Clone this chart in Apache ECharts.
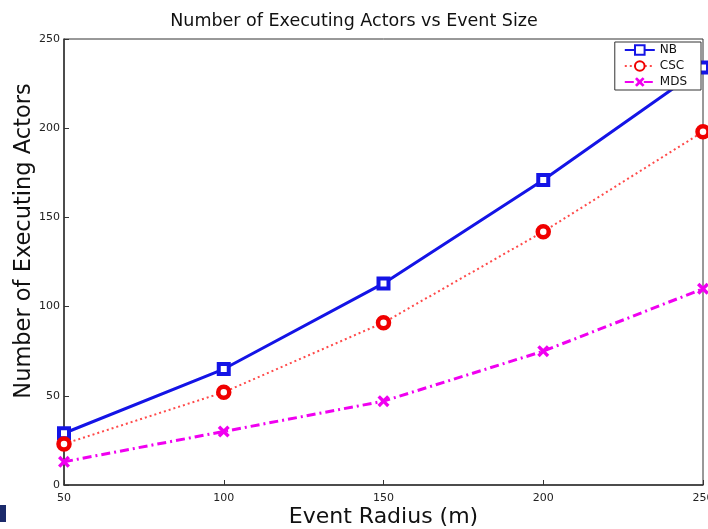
<!DOCTYPE html>
<html>
<head>
<meta charset="utf-8">
<script src="https://cdn.jsdelivr.net/npm/echarts@6/dist/echarts.min.js"></script>
<style>html,body{margin:0;padding:0;background:#fff;}#c{width:708px;height:529px;}</style>
</head>
<body>
<div id="c"></div>
<script>
var radius = [50, 100, 150, 200, 250];
var nbValues = [29, 65, 113, 171, 234];
var cscValues = [23, 52, 91, 142, 198];
var mdsValues = [13, 30, 47, 75, 110];
var xTicks = [50, 100, 150, 200, 250];
var yTicks = [0, 50, 100, 150, 200, 250];

function pairs(v) { return radius.map(function (r, i) { return [r, v[i]]; }); }
var xSymbol = 'path://M0,2L2,0L5,3L8,0L10,2L7,5L10,8L8,10L5,7L2,10L0,8L3,5Z';
var font = 'DejaVu Sans, Liberation Sans, sans-serif';

var chart = echarts.init(document.getElementById('c'));
chart.setOption({
  animation: false,
  backgroundColor: '#fff',
  title: {
    text: 'Number of Executing Actors vs Event Size',
    left: 'center', top: 7,
    textStyle: { fontFamily: font, fontSize: 17.5, fontWeight: 'normal', color: '#111' }
  },
  legend: {
    right: 7, top: 42, orient: 'vertical',
    itemWidth: 30, itemHeight: 12, itemGap: 4,
    padding: [2, 14, 2, 9],
    backgroundColor: '#fff', borderColor: '#333', borderWidth: 1,
    textStyle: { fontFamily: font, fontSize: 12, color: '#111' },
    data: ['NB', 'CSC', 'MDS']
  },
  grid: { left: 64, right: 5, top: 39, bottom: 44, outerBoundsMode: 'none', containLabel: false, show: true, borderColor: '#333', borderWidth: 1, backgroundColor: 'transparent' },
  xAxis: {
    type: 'value', min: 50, max: 250, interval: 50,
    name: 'Event Radius (m)', nameLocation: 'middle', nameGap: 21.5, nameMoveOverlap: false,
    nameTextStyle: { fontFamily: font, fontSize: 22, color: '#111' },
    axisLine: { lineStyle: { color: '#333', width: 1.5 } },
    axisTick: { inside: true, length: 5, lineStyle: { color: '#333' } },
    axisLabel: { fontFamily: font, fontSize: 11, color: '#222', margin: 8, formatter: function (v) { return xTicks.indexOf(v) >= 0 ? String(v) : ''; } },
    splitLine: { show: false }
  },
  yAxis: {
    type: 'value', min: 0, max: 250, interval: 50,
    name: 'Number of Executing Actors', nameLocation: 'middle', nameGap: 28, nameMoveOverlap: false,
    nameTextStyle: { fontFamily: font, fontSize: 22.5, color: '#111', padding: [0, 0, 0, 42] },
    axisLine: { lineStyle: { color: '#333', width: 1.5 } },
    axisTick: { inside: true, length: 5, lineStyle: { color: '#333' } },
    axisLabel: { fontFamily: font, fontSize: 11, color: '#222', margin: 4, formatter: function (v) { return yTicks.indexOf(v) >= 0 ? String(v) : ''; } },
    splitLine: { show: false }
  },
  graphic: [{ type: 'rect', shape: { x: 0, y: 505, width: 6, height: 17 }, style: { fill: '#1b2a6b' } }],
  series: [
    {
      name: 'NB', type: 'line', data: pairs(nbValues),
      symbol: 'rect', symbolSize: 10,
      lineStyle: { color: '#1414e6', width: 3, type: 'solid' },
      itemStyle: { color: '#ffffff', borderColor: '#1414e6', borderWidth: 4 }
    },
    {
      name: 'CSC', type: 'line', data: pairs(cscValues),
      symbol: 'circle', symbolSize: 11,
      lineStyle: { color: '#ff4a4a', width: 2, type: [2, 3] },
      itemStyle: { color: '#ffffff', borderColor: '#f00000', borderWidth: 4.5 }
    },
    {
      name: 'MDS', type: 'line', data: pairs(mdsValues),
      symbol: xSymbol, symbolSize: 12,
      lineStyle: { color: '#f000f0', width: 3, type: [9, 4, 2, 4] },
      itemStyle: { color: '#f000f0', borderColor: '#f000f0', borderWidth: 0 }
    }
  ]
});
</script>
</body>
</html>
